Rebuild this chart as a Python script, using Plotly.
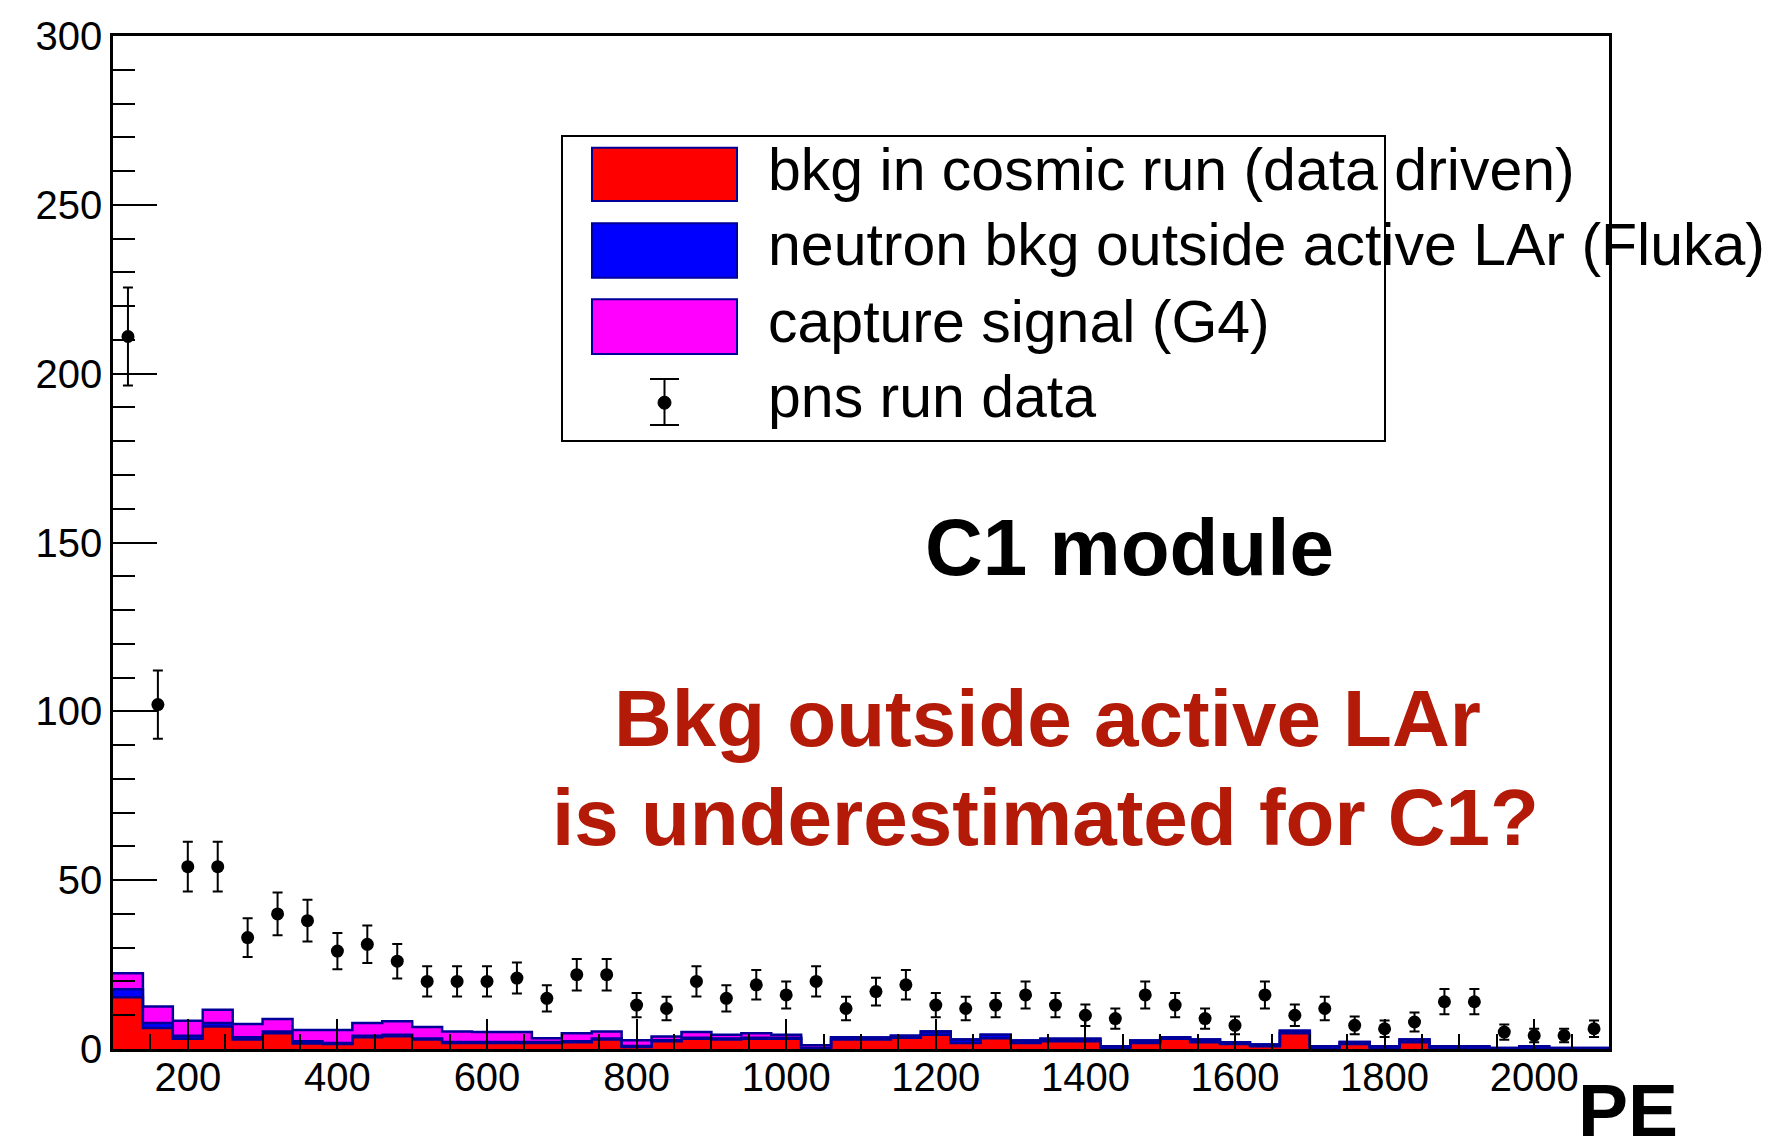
import numpy as np
import plotly.graph_objects as go

# ---- binning: 50 bins of 40 PE from 100 to 2100 ----
bin_edges = np.arange(100, 2101, 40)
bin_centers = (bin_edges[:-1] + bin_edges[1:]) / 2

# pns run data (counts per bin)
pns_counts = [211, 102, 54, 54, 33, 40, 38, 29, 31, 26,
              20, 20, 20, 21, 15, 22, 22, 13, 12, 20,
              15, 19, 16, 20, 12, 17, 19, 13, 12, 13,
              16, 13, 10, 9, 16, 13, 9, 7, 16, 10,
              12, 7, 6, 8, 14, 14, 5, 4, 4, 6]

# bkg in cosmic run (data driven)
cosmic_bkg = [15.3, 6.2, 3.0, 6.7, 2.8, 4.7, 1.6, 1.5, 3.5, 3.8,
              2.8, 1.8, 1.8, 1.8, 1.8, 2.0, 2.8, 0.6, 2.3, 3.0,
              2.8, 3.0, 3.0, 0.0, 2.8, 2.8, 3.3, 4.2, 1.8, 3.2,
              1.8, 2.3, 2.3, 0.0, 1.8, 3.0, 2.0, 1.5, 0.8, 4.7,
              0.0, 1.5, 0.0, 2.0, 0.0, 0.0, 0.0, 0.0, 0.0, 0.0]

# neutron bkg outside active LAr (Fluka)
neutron_bkg = [2.4, 1.5, 0.9, 1.0, 0.7, 0.5, 0.7, 0.3, 0.4, 0.4,
               0.3, 0.3, 0.3, 0.3, 0.3, 0.3, 0.3, 0.3, 0.3, 0.3,
               0.3, 0.3, 0.3, 0.3, 0.7, 0.6, 0.6, 1.0, 1.0, 1.0,
               0.7, 0.7, 0.7, 0.8, 0.7, 0.5, 0.8, 0.5, 0.5, 0.7,
               0.8, 0.6, 0.8, 0.8, 0.8, 0.8, 0.3, 0.8, 0.3, 0.3]

# capture signal (G4)
capture_sig = [4.7, 4.9, 4.5, 3.9, 3.9, 3.7, 3.3, 3.8, 3.8, 4.0,
               3.4, 3.1, 2.9, 2.9, 1.1, 2.4, 2.1, 1.7, 1.1, 1.7,
               1.1, 1.4, 0.9, 0.8, 0.0, 0.0, 0.0, 0.0, 0.0, 0.0,
               0.0, 0.0, 0.0, 0.0, 0.0, 0.0, 0.0, 0.0, 0.0, 0.0,
               0.0, 0.0, 0.0, 0.0, 0.0, 0.0, 0.0, 0.0, 0.0, 0.0]

legend_labels = ["bkg in cosmic run (data driven)",
                 "neutron bkg outside active LAr (Fluka)",
                 "capture signal (G4)",
                 "pns run data"]

RED, BLUE, MAGENTA, NAVY = "#FF0000", "#0000FF", "#FF00FF", "#000099"
FONT = "Liberation Sans"

# ---- figure geometry (pixels) ----
W, H = 1772, 1139
ML, MR, MT, MB = 113, 163, 36, 90
PW, PH = W - ML - MR, H - MT - MB


def px(x):
    return (x - ML) / PW


def py(y):
    return (H - MB - y) / PH


# stacked cumulative heights
s1 = np.array(cosmic_bkg)
s2 = s1 + np.array(neutron_bkg)
s3 = s2 + np.array(capture_sig)


def steps(vals):
    return np.append(vals, vals[-1])


fig = go.Figure()
for cum, col, fill in [(s1, RED, "tozeroy"), (s2, BLUE, "tonexty"), (s3, MAGENTA, "tonexty")]:
    fig.add_trace(go.Scatter(
        x=bin_edges, y=steps(cum), mode="lines",
        line=dict(shape="hv", color=NAVY, width=2.5),
        fill=fill, fillcolor=col, hoverinfo="skip"))

fig.add_trace(go.Scatter(
    x=bin_centers, y=pns_counts, mode="markers",
    marker=dict(color="black", size=13),
    error_y=dict(type="sqrt", color="black", thickness=2, width=5)))

axis_common = dict(showline=True, linecolor="black", linewidth=2.5, mirror=True,
                   showgrid=False, zeroline=False, ticks="inside", tickcolor="black",
                   tickwidth=2, tickfont=dict(family=FONT, size=40, color="black"))

fig.update_xaxes(range=[100, 2100], tickmode="linear", tick0=0, dtick=200, ticklen=30,
                 ticklabelstandoff=-9,
                 minor=dict(tick0=0, dtick=50, ticks="inside", ticklen=15, tickwidth=2,
                            tickcolor="black", showgrid=False),
                 **axis_common)
fig.update_yaxes(range=[0, 300], tickmode="linear", tick0=0, dtick=50, ticklen=44,
                 minor=dict(tick0=0, dtick=10, ticks="inside", ticklen=22, tickwidth=2,
                            tickcolor="black", showgrid=False),
                 **axis_common)

# ---- hand-drawn legend box ----
shapes = [dict(type="rect", xref="paper", yref="paper",
               x0=px(562), x1=px(1385), y0=py(441), y1=py(136),
               line=dict(color="black", width=2), fillcolor="white", layer="above")]
box_rows = [(147.7, 201), (223.3, 277.7), (299.3, 354)]
for (y0, y1), col in zip(box_rows, [RED, BLUE, MAGENTA]):
    shapes.append(dict(type="rect", xref="paper", yref="paper",
                       x0=px(592), x1=px(737), y0=py(y1), y1=py(y0),
                       line=dict(color=NAVY, width=2), fillcolor=col, layer="above"))
# data marker sample
ex, ey0, ey1, ec = 664.5, 379, 425, 402.7
shapes.append(dict(type="line", xref="paper", yref="paper", x0=px(ex), x1=px(ex),
                   y0=py(ey1), y1=py(ey0), line=dict(color="black", width=2), layer="above"))
for yy in (ey0, ey1):
    shapes.append(dict(type="line", xref="paper", yref="paper", x0=px(ex - 14.5), x1=px(ex + 14.5),
                       y0=py(yy), y1=py(yy), line=dict(color="black", width=2), layer="above"))
shapes.append(dict(type="circle", xref="paper", yref="paper", x0=px(ex - 6.5), x1=px(ex + 6.5),
                   y0=py(ec + 6.5), y1=py(ec - 6.5), line=dict(color="black", width=1),
                   fillcolor="black", layer="above"))

annotations = []
leg_size = 59
for label, base in zip(legend_labels, [190.7, 265.7, 342.7, 417.3]):
    annotations.append(dict(text=label, xref="paper", yref="paper", x=px(766), y=py(base - 0.3465 * leg_size),
                            xanchor="left", yanchor="middle", showarrow=False,
                            font=dict(family=FONT, size=leg_size, color="black")))

# ---- in-pad texts ----
annotations.append(dict(text="<b>C1 module</b>", xref="paper", yref="paper",
                        x=px(1129), y=py(575 - 0.3465 * 80), xanchor="center", yanchor="middle",
                        showarrow=False, font=dict(family=FONT, size=80, color="black")))
DARKRED = "#B31A08"
annotations.append(dict(text="<b>Bkg outside active LAr</b>", xref="paper", yref="paper",
                        x=px(1047), y=py(746.7 - 0.3465 * 80), xanchor="center", yanchor="middle",
                        showarrow=False, font=dict(family=FONT, size=80, color=DARKRED)))
annotations.append(dict(text="<b>is underestimated for C1?</b>", xref="paper", yref="paper",
                        x=px(1045), y=py(845 - 0.3465 * 80), xanchor="center", yanchor="middle",
                        showarrow=False, font=dict(family=FONT, size=80, color=DARKRED)))

# x-axis title
annotations.append(dict(text="<b>PE</b>", xref="paper", yref="paper",
                        x=px(1576), y=py(1136.4 - 0.3465 * 75), xanchor="left", yanchor="middle",
                        showarrow=False, font=dict(family=FONT, size=75, color="black")))

fig.update_layout(width=W, height=H, margin=dict(l=ML, r=MR, t=MT, b=MB, autoexpand=False),
                  paper_bgcolor="white", plot_bgcolor="white", showlegend=False,
                  font=dict(family=FONT, color="black"),
                  shapes=shapes, annotations=annotations)

fig.write_html("out.html")
